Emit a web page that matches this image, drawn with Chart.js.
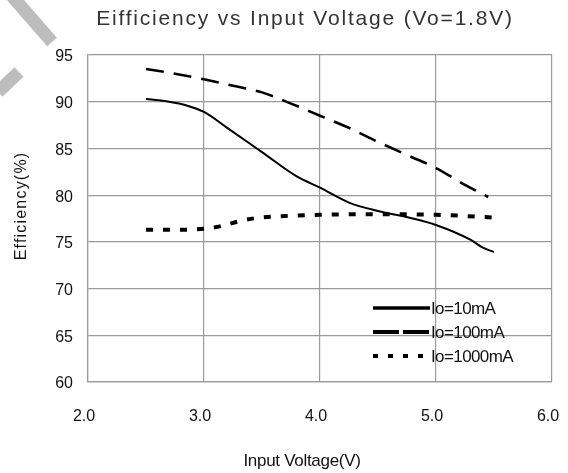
<!DOCTYPE html>
<html>
<head>
<meta charset="utf-8">
<script src="https://cdn.jsdelivr.net/npm/chart.js@4.4.0/dist/chart.umd.min.js"></script>
<style>
html, body { margin: 0; padding: 0; background: #fff; }
#chartContainer { width: 568px; height: 473px; }
</style>
</head>
<body>
<div id="chartContainer"><canvas id="effChart"></canvas></div>
<script>
/* data */
const chartTitle = "Eifficiency vs Input Voltage (Vo=1.8V)";
const xAxisTitle = "Input Voltage(V)";
const yAxisTitle = "Efficiency(%)";
const seriesNames = ["Io=10mA", "Io=100mA", "Io=1000mA"];

const vin10 = [2.5, 2.7, 2.85, 3.0, 3.2, 3.5, 3.8, 4.0, 4.25, 4.5, 4.8, 5.0, 5.3, 5.4, 5.5];
const eff10 = [90.3, 90.0, 89.6, 88.9, 87.2, 84.6, 82.0, 80.8, 79.2, 78.3, 77.5, 76.8, 75.2, 74.4, 73.9];

const vin100 = [2.5, 2.75, 3.0, 3.25, 3.5, 3.75, 4.0, 4.25, 4.5, 4.75, 5.0, 5.25, 5.45];
const eff100 = [93.5, 93.0, 92.4, 91.7, 91.0, 89.8, 88.5, 87.2, 85.7, 84.3, 82.9, 81.1, 79.8];

const vin1000 = [2.5, 2.75, 3.0, 3.15, 3.3, 3.45, 3.6, 4.0, 4.5, 5.0, 5.5];
const eff1000 = [76.3, 76.3, 76.4, 76.7, 77.2, 77.55, 77.7, 77.9, 77.95, 77.9, 77.6];

const xTicks = [2.0, 3.0, 4.0, 5.0, 6.0];
const yTicks = [60, 65, 70, 75, 80, 85, 90, 95];

const gridColor = "#9a9a9a";
const fontFamily = '"Liberation Sans", Arial, sans-serif';

function toPoints(xs, ys) {
    return xs.map((x, i) => ({ x: x, y: ys[i] }));
}

// grey watermark strokes in the top left corner
const watermarkPlugin = {
    id: "watermark",
    beforeDraw(chart) {
        const ctx = chart.ctx;
        ctx.save();
        ctx.strokeStyle = "#bdbdbd";
        ctx.lineWidth = 13;
        ctx.beginPath();
        ctx.moveTo(12, -4);
        ctx.lineTo(52, 42);
        ctx.moveTo(-2, 92);
        ctx.lineTo(19, 72);
        ctx.stroke();
        ctx.restore();
    }
};

// titles and the in-plot legend
const textPlugin = {
    id: "texts",
    afterDraw(chart) {
        const ctx = chart.ctx;
        ctx.save();
        ctx.fillStyle = "#333";
        ctx.textAlign = "center";
        ctx.textBaseline = "middle";
        ctx.font = "21px " + fontFamily;
        ctx.letterSpacing = "1.8px";
        ctx.fillText(chartTitle, 305, 19);

        ctx.fillStyle = "#111";
        ctx.letterSpacing = "-0.3px";
        ctx.font = "17px " + fontFamily;
        ctx.fillText(xAxisTitle, 302, 461);

        ctx.save();
        ctx.translate(22, 206);
        ctx.rotate(-Math.PI / 2);
        ctx.letterSpacing = "1.2px";
        ctx.font = "16px " + fontFamily;
        ctx.fillText(yAxisTitle, 0, 0);
        ctx.restore();

        // legend
        const lx0 = 373, lx1 = 430, ly0 = 308, lstep = 24;
        ctx.textAlign = "left";
        ctx.letterSpacing = "-0.6px";
        ctx.font = "17px " + fontFamily;
        chart.data.datasets.forEach((ds, i) => {
            const y = ly0 + i * lstep;
            ctx.strokeStyle = ds.borderColor;
            ctx.lineWidth = ds.legendWidth;
            ctx.setLineDash(ds.legendDash);
            ctx.beginPath();
            ctx.moveTo(lx0, y);
            ctx.lineTo(lx1, y);
            ctx.stroke();
            ctx.setLineDash([]);
            ctx.fillStyle = "#111";
            ctx.fillText(ds.label, lx1 + 1, y + 1);
        });
        ctx.restore();
    }
};

const ctx = document.getElementById("effChart");

const effChart = new Chart(ctx, {
    type: "line",
    data: {
        datasets: [
            {
                label: seriesNames[0],
                data: toPoints(vin10, eff10),
                borderColor: "#000",
                borderWidth: 2,
                legendWidth: 3.5,
                legendDash: [],
            },
            {
                label: seriesNames[1],
                data: toPoints(vin100, eff100),
                borderColor: "#000",
                borderWidth: 2.6,
                borderDash: [18, 10],
                legendWidth: 4,
                legendDash: [26, 4],
            },
            {
                label: seriesNames[2],
                data: toPoints(vin1000, eff1000),
                borderColor: "#000",
                borderWidth: 4,
                borderDash: [7, 10],
                legendWidth: 4,
                legendDash: [5, 10],
            },
        ],
    },
    options: {
        responsive: true,
        maintainAspectRatio: false,
        animation: false,
        layout: {
            padding: { top: 55, right: 16, left: 0, bottom: 0 },
        },
        elements: {
            point: { radius: 0 },
            line: { tension: 0.4, cubicInterpolationMode: "monotone", borderCapStyle: "butt" },
        },
        plugins: {
            legend: { display: false },
            title: { display: false },
            tooltip: { enabled: false },
        },
        scales: {
            x: {
                type: "linear",
                min: xTicks[0],
                max: xTicks[xTicks.length - 1],
                afterFit(scale) {
                    scale.height = 91;
                    scale.paddingLeft = 0;
                    scale.paddingRight = 0;
                },
                afterBuildTicks(scale) { scale.ticks = xTicks.map(v => ({ value: v })); },
                grid: { color: gridColor, lineWidth: 1.2, drawTicks: false },
                border: { color: gridColor, width: 1.2 },
                ticks: {
                    padding: 25,
                    labelOffset: -4,
                    color: "#111",
                    font: { family: fontFamily, size: 16 },
                    callback: v => v.toFixed(1),
                },
            },
            y: {
                min: yTicks[0],
                max: yTicks[yTicks.length - 1],
                afterFit(scale) {
                    scale.width = 88;
                    scale.paddingTop = 0;
                    scale.paddingBottom = 0;
                },
                afterBuildTicks(scale) { scale.ticks = yTicks.map(v => ({ value: v })); },
                grid: { color: gridColor, lineWidth: 1.2, drawTicks: false },
                border: { color: gridColor, width: 1.2 },
                ticks: {
                    padding: 15,
                    labelOffset: 2,
                    color: "#111",
                    font: { family: fontFamily, size: 16 },
                },
            },
        },
    },
    plugins: [watermarkPlugin, textPlugin],
});
</script>
</body>
</html>
